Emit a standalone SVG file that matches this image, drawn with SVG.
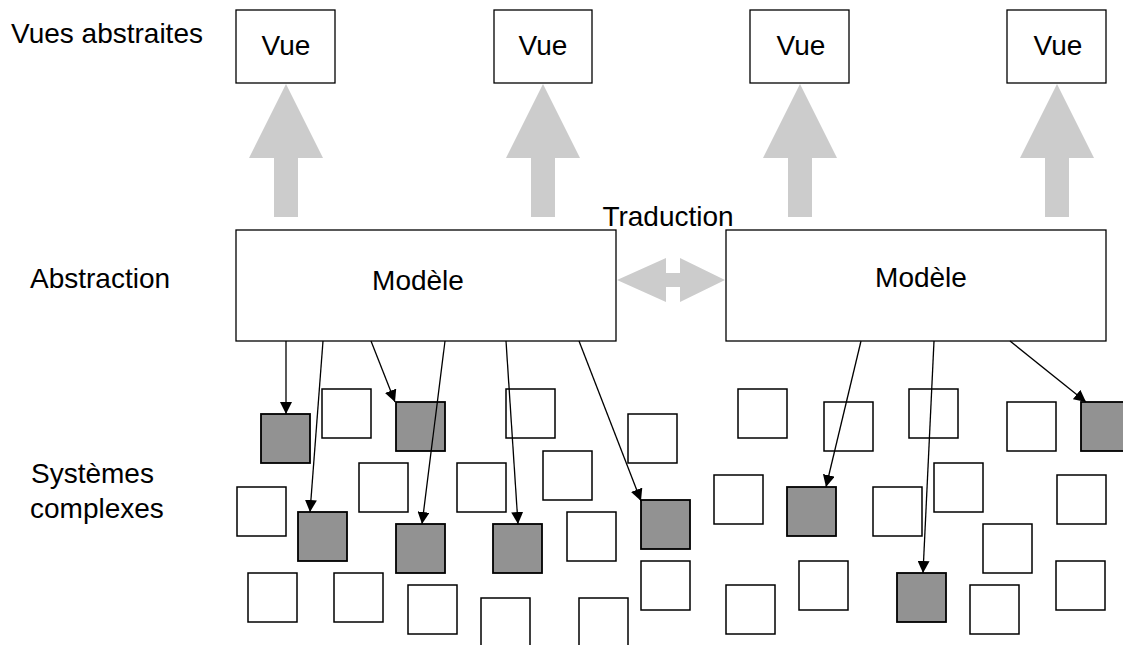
<svg xmlns="http://www.w3.org/2000/svg" width="1123" height="645" viewBox="0 0 1123 645">
<defs>
<style>
text{font-family:"Liberation Sans",Arial,sans-serif;font-size:28px;fill:#000}
.box{fill:#fff;stroke:#000;stroke-width:1.3}
.sq{fill:#fff;stroke:#000;stroke-width:1.5}
.g{fill:#929292;stroke:#000;stroke-width:1.8}
.big{fill:#cccccc;stroke:none}
.c{stroke:#000;stroke-width:1.3;fill:none;marker-end:url(#ah)}
.mid{text-anchor:middle}
</style>
<marker id="ah" markerWidth="12" markerHeight="12" refX="12" refY="6" orient="auto" markerUnits="userSpaceOnUse">
<path d="M0,0 L12,6 L0,12 Z" fill="#000"/>
</marker>
</defs>
<rect width="1123" height="645" fill="#fff"/>
<g id="labels">
<text x="11" y="43">Vues abstraites</text>
<text x="30" y="288">Abstraction</text>
<text x="31" y="483">Systèmes</text>
<text x="30" y="518">complexes</text>
<text x="668" y="226" class="mid">Traduction</text>
</g>
<g id="vue1"><rect class="box" x="236" y="10" width="99" height="73"/><text x="286" y="55" class="mid">Vue</text></g>
<g id="vue2"><rect class="box" x="494" y="10" width="98" height="73"/><text x="543" y="55" class="mid">Vue</text></g>
<g id="vue3"><rect class="box" x="750" y="10" width="99" height="73"/><text x="801" y="55" class="mid">Vue</text></g>
<g id="vue4"><rect class="box" x="1007" y="10" width="99" height="73"/><text x="1058" y="55" class="mid">Vue</text></g>
<g id="bigarrows">
<path class="big" d="M286,84 L323,158 L298,158 L298,217 L274,217 L274,158 L249,158 Z"/>
<path class="big" d="M543,84 L580,158 L555,158 L555,217 L531,217 L531,158 L506,158 Z"/>
<path class="big" d="M800,84 L837,158 L812,158 L812,217 L788,217 L788,158 L763,158 Z"/>
<path class="big" d="M1057,84 L1094,158 L1069,158 L1069,217 L1045,217 L1045,158 L1020,158 Z"/>
<path class="big" d="M617,280 L666,258 L666,273 L680,273 L680,258 L725,280 L680,302 L680,287 L666,287 L666,302 Z"/>
</g>
<g id="modele1"><rect class="box" x="236" y="230" width="380" height="111"/><text x="418" y="290" class="mid">Modèle</text></g>
<g id="modele2"><rect class="box" x="726" y="230" width="380" height="111"/><text x="921" y="287" class="mid">Modèle</text></g>
<g id="systems">
<rect class="sq" x="322" y="389" width="49" height="49"/>
<rect class="sq" x="359" y="463" width="49" height="49"/>
<rect class="sq" x="237" y="487" width="49" height="49"/>
<rect class="sq" x="248" y="573" width="49" height="49"/>
<rect class="sq" x="334" y="573" width="49" height="49"/>
<rect class="sq" x="408" y="585" width="49" height="49"/>
<rect class="sq" x="457" y="463" width="49" height="49"/>
<rect class="sq" x="506" y="389" width="49" height="49"/>
<rect class="sq" x="543" y="451" width="49" height="49"/>
<rect class="sq" x="567" y="512" width="49" height="49"/>
<rect class="sq" x="628" y="414" width="49" height="49"/>
<rect class="sq" x="641" y="561" width="49" height="49"/>
<rect class="sq" x="481" y="598" width="49" height="49"/>
<rect class="sq" x="579" y="598" width="49" height="49"/>
<rect class="sq" x="738" y="389" width="49" height="49"/>
<rect class="sq" x="824" y="402" width="49" height="49"/>
<rect class="sq" x="714" y="475" width="49" height="49"/>
<rect class="sq" x="873" y="487" width="49" height="49"/>
<rect class="sq" x="726" y="585" width="49" height="49"/>
<rect class="sq" x="799" y="561" width="49" height="49"/>
<rect class="sq" x="909" y="389" width="49" height="49"/>
<rect class="sq" x="934" y="463" width="49" height="49"/>
<rect class="sq" x="1007" y="402" width="49" height="49"/>
<rect class="sq" x="1057" y="475" width="49" height="49"/>
<rect class="sq" x="983" y="524" width="49" height="49"/>
<rect class="sq" x="1056" y="561" width="49" height="49"/>
<rect class="sq" x="970" y="585" width="49" height="49"/>
<rect class="g" x="261" y="414" width="49" height="49"/>
<rect class="g" x="396" y="402" width="49" height="49"/>
<rect class="g" x="298" y="512" width="49" height="49"/>
<rect class="g" x="396" y="524" width="49" height="49"/>
<rect class="g" x="493" y="524" width="49" height="49"/>
<rect class="g" x="641" y="500" width="49" height="49"/>
<rect class="g" x="787" y="487" width="49" height="49"/>
<rect class="g" x="897" y="573" width="49" height="49"/>
<rect class="g" x="1081" y="402" width="49" height="49"/>
</g>
<g id="connectors">
<line class="c" x1="286" y1="341" x2="286" y2="414"/>
<line class="c" x1="323" y1="341" x2="310" y2="512"/>
<line class="c" x1="371" y1="341" x2="395" y2="402"/>
<line class="c" x1="445" y1="341" x2="422" y2="524"/>
<line class="c" x1="506" y1="341" x2="518" y2="524"/>
<line class="c" x1="579" y1="341" x2="641" y2="501"/>
<line class="c" x1="861" y1="341" x2="826" y2="487"/>
<line class="c" x1="934" y1="341" x2="923" y2="573"/>
<line class="c" x1="1010" y1="341" x2="1086" y2="402"/>
</g>
</svg>
